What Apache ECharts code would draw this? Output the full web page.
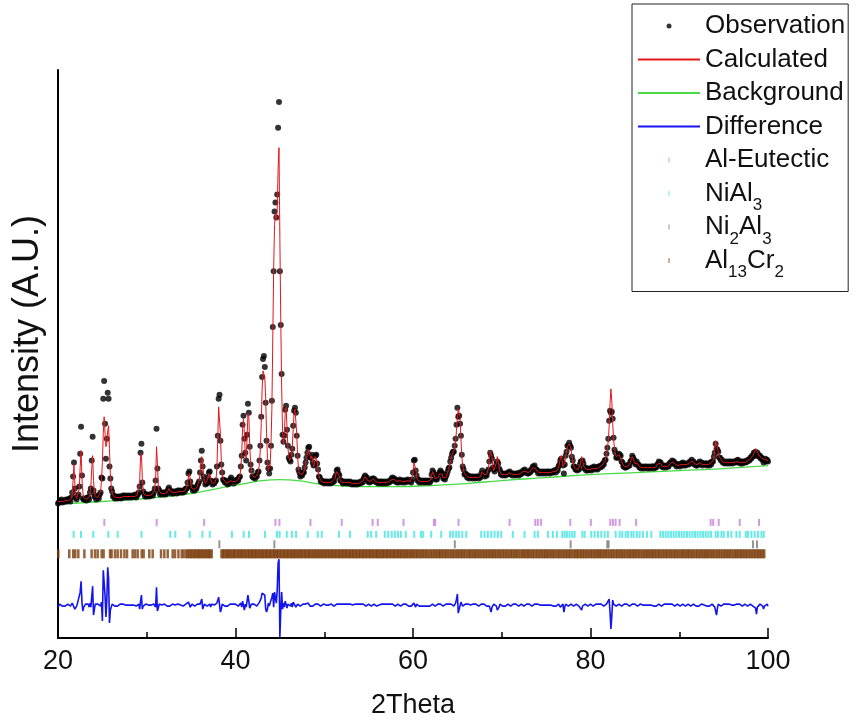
<!DOCTYPE html>
<html>
<head>
<meta charset="utf-8">
<title>XRD Rietveld refinement</title>
<script src="https://cdn.jsdelivr.net/npm/echarts@6/dist/echarts.min.js"></script>
<style>
html, body { margin: 0; padding: 0; background: #fff; }
#chart { width: 858px; height: 724px; }
</style>
</head>
<body>
<div id="chart"></div>
<script>
// Scan: 2θ from 20° to 100°, step 0.1°
const START = 20;
const STEP = 0.1;

// Observed intensity (a.u.), one row per degree
const observed = [
  135,136,138,137,139,136,137,138,137,139, // 20
  137,139,138,140,137,141,146,162,176,150, // 21
  141,139,142,144,152,185,212,163,140,139, // 22
  139,140,138,141,141,139,146,150,178,202, // 23
  148,142,143,139,141,142,140,144,146,161, // 24
  160,240,258,215,180,200,246,240,172,160, // 25
  150,147,142,143,140,142,141,140,142,141, // 26
  142,140,141,143,141,143,142,141,143,142, // 27
  141,143,142,141,143,142,142,144,141,143, // 28
  144,146,152,186,195,156,147,145,142,144, // 29
  142,144,143,142,144,143,145,143,146,150, // 30
  158,210,170,150,148,144,146,145,144,146, // 31
  146,144,146,145,149,151,148,147,145,147, // 32
  145,147,146,147,145,148,146,148,147,146, // 33
  148,146,148,147,150,150,156,165,167,157, // 34
  152,151,148,150,148,151,150,153,155,157, // 35
  166,178,188,172,162,159,154,156,155,161, // 36
  166,167,158,157,154,156,155,157,158,172, // 37
  203,240,244,198,174,166,159,158,156,158, // 38
  156,154,156,155,159,161,158,158,155,158, // 39
  158,157,159,158,161,162,172,183,214,223, // 40
  200,186,178,204,235,226,192,174,168,162, // 41
  161,162,160,163,162,166,167,178,193,222, // 42
  262,280,283,272,236,198,176,170,165,170, // 43
  193,238,312,368,428,437,422,445,512,538, // 44
  368,314,265,204,197,203,229,233,209,193, // 45
  181,179,177,184,190,213,228,231,226,203, // 46
  183,169,166,162,164,163,166,166,171,176, // 47
  181,186,191,192,182,181,184,176,173,174, // 48
  183,184,175,169,162,161,157,158,156,157, // 49
  155,157,156,157,155,156,157,155,157,156, // 50
  158,157,161,163,168,169,165,163,158,158, // 51
  157,155,156,157,156,155,157,156,155,157, // 52
  156,154,155,156,154,156,155,154,156,155, // 53
  155,157,156,156,159,161,163,161,161,157, // 54
  158,156,158,157,160,159,160,157,158,156, // 55
  157,155,156,157,155,157,156,155,157,156, // 56
  155,157,156,156,158,157,160,161,159,160, // 57
  157,158,156,158,156,159,157,158,156,158, // 58
  158,156,158,157,159,157,158,158,156,159, // 59
  166,178,179,168,163,158,159,156,158,157, // 60
  156,158,157,156,158,157,156,158,157,156, // 61
  158,164,168,166,164,159,160,159,162,164, // 62
  166,168,166,165,160,161,159,162,164,167, // 63
  170,171,177,181,185,187,187,193,200,214, // 64
  231,222,223,215,203,184,172,169,164,165, // 65
  164,161,163,160,162,161,162,160,162,161, // 66
  160,162,161,162,160,162,161,165,168,165, // 67
  165,162,164,163,167,169,177,186,183,180, // 68
  171,169,167,171,175,177,175,170,168,164, // 69
  165,163,165,164,163,165,164,166,165,167, // 70
  164,165,163,165,164,163,165,164,165,163, // 71
  166,164,166,165,168,167,169,166,167,165, // 72
  165,167,166,169,168,172,171,173,169,169, // 73
  168,165,167,166,165,167,166,165,167,166, // 74
  165,167,166,167,165,166,167,166,166,168, // 75
  168,166,169,168,172,174,178,180,177,173, // 76
  165,174,183,187,193,193,196,193,191,182, // 77
  178,172,172,169,170,168,170,169,174,177, // 78
  177,178,175,170,171,168,170,168,170,169, // 79
  170,168,171,170,172,169,171,170,169,172, // 80
  172,171,173,172,175,174,178,179,185,191, // 81
  200,218,228,226,227,220,201,189,186,181, // 82
  182,181,185,184,183,177,176,172,173,171, // 83
  171,173,172,174,173,177,178,183,181,179, // 84
  176,174,177,174,174,171,172,170,172,171, // 85
  170,172,171,172,170,171,172,170,171,172, // 86
  172,170,172,171,171,174,174,177,176,176, // 87
  172,173,171,173,172,171,173,172,172,175, // 88
  176,175,178,176,177,174,175,172,174,173, // 89
  174,172,175,174,176,173,175,173,175,174, // 90
  175,174,177,176,179,176,177,174,175,173, // 91
  173,175,174,177,175,176,173,175,174,175, // 92
  175,173,175,174,173,176,174,177,177,182, // 93
  186,195,190,189,187,181,181,178,179,176, // 94
  177,175,176,177,175,176,177,175,177,176, // 95
  175,177,176,177,176,178,179,176,177,175, // 96
  177,175,177,176,177,176,178,177,179,178, // 97
  181,180,183,182,186,185,187,183,186,184, // 98
  182,183,180,181,179,176,178,180,177,179, // 99
  177                                      // 100
];

// Calculated profile (a.u.), same steps
const calculated = [
  137,137,137,137,137,137,137,137,138,138, // 20
  138,138,138,138,138,140,144,158,174,154, // 21
  143,140,140,142,150,172,188,160,146,141, // 22
  140,139,139,139,140,141,144,152,170,183, // 23
  158,146,142,140,140,141,141,143,147,158, // 24
  176,205,222,205,192,196,208,213,190,165, // 25
  152,146,143,142,141,141,141,141,141,141, // 26
  141,141,141,142,142,142,142,142,142,142, // 27
  142,142,142,142,142,142,142,142,142,143, // 28
  143,145,156,182,185,160,148,144,143,143, // 29
  143,143,143,143,143,143,144,144,145,149, // 30
  160,192,176,153,147,145,145,145,145,145, // 31
  145,145,145,146,148,150,149,147,146,146, // 32
  146,146,146,146,146,147,147,147,147,147, // 33
  147,147,147,148,149,151,155,162,165,159, // 34
  153,150,149,149,149,150,151,152,154,158, // 35
  165,175,182,176,164,158,155,155,156,160, // 36
  165,166,160,156,155,155,155,156,159,170, // 37
  200,232,234,205,178,165,160,158,157,157, // 38
  155,155,155,156,158,160,159,157,156,157, // 39
  157,158,158,159,160,163,170,185,210,220, // 40
  205,185,180,200,225,222,195,175,167,163, // 41
  162,161,161,162,163,165,168,175,190,215, // 42
  250,268,270,262,240,205,180,168,166,172, // 43
  195,230,300,370,415,425,420,430,470,492, // 44
  400,320,252,208,195,205,225,232,212,192, // 45
  182,178,178,182,192,210,226,230,228,205, // 46
  182,170,165,163,163,164,165,167,170,175, // 47
  180,185,189,190,183,180,183,177,172,175, // 48
  182,183,176,168,163,160,158,157,157,156, // 49
  156,156,156,156,156,156,156,156,156,157, // 50
  157,158,160,164,167,168,166,162,159,157, // 51
  156,156,156,156,156,156,156,156,156,156, // 52
  155,155,155,155,155,155,155,155,155,156, // 53
  156,156,156,157,158,160,162,162,160,158, // 54
  157,157,157,158,159,160,159,158,157,157, // 55
  156,156,156,156,156,156,156,156,156,156, // 56
  156,156,156,157,157,158,159,160,160,159, // 57
  158,157,157,157,157,158,158,157,157,157, // 58
  157,157,157,158,158,158,158,157,157,158, // 59
  165,176,178,170,162,159,158,157,157,157, // 60
  157,157,157,157,157,157,157,157,157,157, // 61
  159,163,167,167,163,160,159,160,161,163, // 62
  165,167,167,164,161,160,160,161,163,166, // 63
  169,172,176,180,184,186,188,192,198,208, // 64
  220,230,232,222,200,182,173,168,165,164, // 65
  163,162,162,161,161,161,161,161,161,161, // 66
  161,161,161,161,161,161,162,164,167,166, // 67
  164,163,163,164,166,170,178,188,190,182, // 68
  172,168,168,170,176,182,180,172,167,165, // 69
  164,164,164,164,164,164,164,165,166,166, // 70
  165,164,164,164,164,164,164,164,164,164, // 71
  165,165,165,166,167,168,168,167,166,166, // 72
  166,166,167,168,169,171,172,172,170,168, // 73
  167,166,166,166,166,166,166,166,166,166, // 74
  166,166,166,166,166,166,166,166,167,167, // 75
  167,167,168,169,171,175,180,183,178,172, // 76
  172,176,182,188,192,194,195,194,190,183, // 77
  177,173,171,170,169,169,169,170,173,178, // 78
  182,179,174,171,170,169,169,169,169,169, // 79
  169,169,170,171,171,170,170,170,170,171, // 80
  171,172,172,173,174,175,177,180,184,190, // 81
  198,212,235,250,238,215,200,190,185,182, // 82
  181,182,184,185,182,178,175,173,172,172, // 83
  172,172,172,173,174,176,179,182,182,178, // 84
  175,175,176,175,173,172,171,171,171,171, // 85
  171,171,171,171,171,171,171,171,171,171, // 86
  171,171,171,171,172,173,175,176,177,175, // 87
  173,172,172,172,172,172,172,172,173,174, // 88
  175,176,177,177,176,175,174,173,173,173, // 89
  173,173,174,175,175,174,174,174,174,174, // 90
  174,175,176,177,178,177,176,175,174,174, // 91
  174,174,175,176,176,175,174,174,174,174, // 92
  174,174,174,174,174,175,175,176,178,181, // 93
  188,198,200,192,186,182,180,179,178,177, // 94
  176,176,176,176,176,176,176,176,176,176, // 95
  176,176,176,176,177,177,178,177,176,176, // 96
  176,176,176,176,176,177,177,178,178,179, // 97
  180,181,182,183,185,187,190,192,188,185, // 98
  183,182,181,180,180,180,179,179,178,178, // 99
  178                                      // 100
];

// Refined background: [2θ, intensity]
const background = [
  [20,134],[25,137],[30,140],[35,145],[38,150],[41,155],[43,158],[45,159],
  [47,158],[50,154],[54,152],[58,152],[62,153],[66,155],[70,158],[75,161],
  [80,164],[85,166],[90,168],[95,170],[100,173]
];

// Baseline of the difference curve (a.u.)
const DIFF_BASE = 33;

// Reflection positions (2θ) for each phase
const alEutectic = [
  25.22,31.12,36.47,44.5,44.95,48.45,51.97,55.45,56.03,58.93,62.35,62.5,65.13,
  70.88,73.78,74.07,74.43,77.72,80.04,82.23,82.53,82.83,83.28,85.14,93.54,93.82,
  94.44,96.81,98.99
];
const niAl3 = [
  21.76,22.59,23.98,25.67,26.72,29.4,32.65,33.22,34.84,36.27,37.1,39.6,40.92,41.52,
  43.32,44.67,44.97,45.78,46.35,46.83,48.14,49.27,49.72,51.67,52.9,54.9,55.28,55.85,
  56.82,57.2,57.6,57.95,58.3,58.63,59.19,60.14,60.9,61.15,62.05,63.18,64.19,64.49,
  64.87,65.16,65.55,66.0,67.69,68.06,68.43,68.82,69.19,69.56,69.94,71.25,72.57,73.7,
  74.07,75.2,75.76,76.21,76.82,77.08,77.34,77.64,77.95,78.21,79.08,79.34,80.09,80.46,
  80.83,81.22,81.59,81.96,82.83,83.28,83.58,83.96,84.22,84.6,84.86,85.23,85.54,85.91,
  86.36,86.85,87.87,88.16,88.47,88.77,89.06,89.37,89.67,89.97,90.27,90.57,90.87,91.17,
  91.48,91.77,92.07,92.38,92.67,92.98,93.28,93.57,94.1,94.36,94.75,95.01,95.49,95.87,
  96.44,96.81,97.49,97.74,98.13,98.5,98.87,99.26,99.52
];
const ni2Al3 = [38.18,44.38,64.71,77.76,81.89,82.04,98.31,98.76];
const al13Cr2 = [
  20.03,21.27,21.72,21.95,22.29,22.97,23.79,24.17,24.47,24.92,25.14,25.86,26.04,26.42,
  26.72,27.1,27.48,27.78,28.41,28.68,28.98,29.43,29.65,30.29,30.67,31.61,31.98,32.36,
  32.92,33.19,33.57,33.94,34.16,
  34.45,34.6,34.78,34.95,35.1,35.28,35.42,35.6,35.75,35.9,36.05,36.2,36.38,36.52,36.7,
  36.85,37.0,37.15,37.32,
  38.42,38.58,38.71,38.9,39.05,39.2,39.33,39.5,39.66,39.81,39.95,
  40.12,40.3,40.44,40.6,40.75,40.9,41.08,41.22,41.4,41.55,41.7,41.86,
  42.0,42.18,42.3,42.48,42.62,42.8,42.95,43.1,43.25,43.42,43.55,43.72,43.88,
  44.02,44.2,44.35,44.5,44.66,44.8,44.97,45.12,45.3,45.45,45.6,45.78,45.92,
  46.08,46.25,46.4,46.55,46.7,46.88,47.02,47.2,47.35,47.5,47.68,47.82,47.98,
  48.15,48.3,48.45,48.62,48.78,48.93,49.1,49.25,49.42,49.58,49.72,49.9,
  50.05,50.2,50.38,50.52,50.7,50.85,51.0,51.18,51.32,51.5,51.65,51.8,51.98,
  52.12,52.3,52.45,52.6,52.78,52.92,53.1,53.25,53.4,53.58,53.72,53.9,
  54.05,54.22,54.38,54.52,54.7,54.85,55.02,55.18,55.32,55.5,55.65,55.82,55.96,
  56.12,56.28,56.45,56.6,56.75,56.92,57.08,57.22,57.4,57.55,57.72,57.88,
  58.02,58.2,58.35,58.5,58.68,58.82,59.0,59.15,59.3,59.48,59.62,59.8,59.95,
  60.1,60.28,60.45,60.6,60.8,60.95,61.12,61.3,61.48,61.65,61.85,
  62.02,62.2,62.38,62.55,62.72,62.9,63.05,63.22,63.4,63.58,63.75,63.92,
  64.12,64.3,64.48,64.65,64.85,65.02,65.2,65.38,65.55,65.72,65.9,
  66.1,66.28,66.45,66.6,66.8,66.95,67.12,67.3,67.48,67.65,67.85,
  68.02,68.2,68.38,68.55,68.72,68.9,69.05,69.22,69.4,69.58,69.75,69.92,
  70.12,70.3,70.48,70.65,70.85,71.02,71.2,71.38,71.55,71.72,71.9,
  72.1,72.28,72.45,72.6,72.8,72.95,73.12,73.3,73.48,73.65,73.85,
  74.02,74.2,74.38,74.55,74.72,74.9,75.05,75.22,75.4,75.58,75.75,75.92,
  76.12,76.3,76.48,76.65,76.85,77.02,77.2,77.38,77.55,77.72,77.9,
  78.1,78.28,78.45,78.6,78.8,78.95,79.12,79.3,79.48,79.65,79.85,
  80.02,80.2,80.38,80.55,80.72,80.9,81.05,81.22,81.4,81.58,81.75,81.92,
  82.12,82.3,82.48,82.65,82.85,83.02,83.2,83.38,83.55,83.72,83.9,
  84.1,84.28,84.45,84.6,84.8,84.95,85.12,85.3,85.48,85.65,85.85,
  86.02,86.2,86.38,86.55,86.72,86.9,87.05,87.22,87.4,87.58,87.75,87.92,
  88.12,88.3,88.48,88.65,88.85,89.02,89.2,89.38,89.55,89.72,89.9,
  90.1,90.28,90.45,90.6,90.8,90.95,91.12,91.3,91.48,91.65,91.85,
  92.02,92.2,92.38,92.55,92.72,92.9,93.05,93.22,93.4,93.58,93.75,93.92,
  94.12,94.3,94.48,94.65,94.85,95.02,95.2,95.38,95.55,95.72,95.9,
  96.1,96.28,96.45,96.6,96.8,96.95,97.12,97.3,97.48,97.65,97.85,
  98.02,98.2,98.38,98.55,98.72,98.9,99.05,99.22,99.4,99.58
];

// Vertical level of each reflection-marker row (a.u.)
const ROW_LEVEL = { alEutectic: 116, niAl3: 104, ni2Al3: 94, al13Cr2: 84.5 };

// Series colours
const COLORS = {
  obs: '#000000', calc: '#e3161c', bg: '#47dc47', diff: '#1414ee',
  alEutectic: '#c77fdb', niAl3: '#3fe3e3', ni2Al3: '#7a7a7a', al13Cr2: '#7b3d0b'
};

const FONT = '"Liberation Sans", Arial, sans-serif';
const angle = i => Math.round((START + i * STEP) * 10) / 10;

const obsData = observed.map((v, i) => [angle(i), v]);
const calcData = calculated.map((v, i) => [angle(i), v]);
const diffData = observed.map((v, i) => [angle(i), v - calculated[i] + DIFF_BASE]);
const markerRow = (list, level) => list.map(x => [x, level]);

// Legend entries: curves keep their own line sample (centre marker hidden),
// reflection rows get a short vertical tick
const tickIcon = 'path://M0,0H1V5H0Z';
const HIDDEN = 'rgba(0,0,0,0)';
const curveItem = name => ({
  name,
  itemStyle: { color: HIDDEN, borderColor: HIDDEN, borderWidth: 0 }
});
const markItem = (name, icon, color) => ({
  name, icon,
  itemStyle: { color, borderColor: color, borderWidth: 0 }
});

const chart = echarts.init(document.getElementById('chart'), null, { renderer: 'canvas' });
chart.setOption({
  animation: false,
  backgroundColor: '#ffffff',
  grid: { left: 58, right: 90, top: 70, bottom: 84 },
  legend: {
    orient: 'vertical',
    left: 632,
    top: 4,
    padding: [0, 3, 9, 5],
    itemWidth: 62,
    itemHeight: 5,
    itemGap: -10.5,
    selectedMode: false,
    backgroundColor: '#ffffff',
    borderColor: '#222',
    borderWidth: 1,
    textStyle: {
      fontFamily: FONT, fontSize: 26, color: '#111', lineHeight: 44,
      rich: { sub: { fontFamily: FONT, fontSize: 17, color: '#111', padding: [24, 0, 0, 0] } }
    },
    formatter: name => name.replace(/(\d+)/g, '{sub|$1}'),
    data: [
      markItem('Observation', 'circle', COLORS.obs),
      curveItem('Calculated'),
      curveItem('Background'),
      curveItem('Difference'),
      markItem('Al-Eutectic', tickIcon, COLORS.alEutectic),
      markItem('NiAl3', tickIcon, COLORS.niAl3),
      markItem('Ni2Al3', tickIcon, COLORS.ni2Al3),
      markItem('Al13Cr2', tickIcon, COLORS.al13Cr2)
    ]
  },
  xAxis: {
    type: 'value',
    min: 20, max: 100, interval: 20,
    axisLine: { lineStyle: { color: '#000', width: 2 } },
    axisTick: { inside: true, length: 10, lineStyle: { color: '#000', width: 1.5 } },
    minorTick: { show: true, splitNumber: 2, length: 6, lineStyle: { color: '#000', width: 1.5 } },
    splitLine: { show: false },
    axisLabel: { fontFamily: FONT, fontSize: 27, color: '#111', margin: 10 },
    name: '2Theta',
    nameLocation: 'middle',
    nameGap: 54,
    nameTextStyle: { fontFamily: FONT, fontSize: 27, color: '#111' }
  },
  yAxis: {
    type: 'value',
    min: 0, max: 570,
    axisLine: { show: true, lineStyle: { color: '#000', width: 2 } },
    axisTick: { show: false },
    axisLabel: { show: false },
    splitLine: { show: false },
    name: 'Intensity (A.U.)',
    nameLocation: 'middle',
    nameGap: 12,
    nameTextStyle: { fontFamily: FONT, fontSize: 36, color: '#111', padding: [0, 0, 0, 40] }
  },
  series: [
    {
      name: 'Background', type: 'line', data: background, smooth: true,
      symbol: 'none', color: COLORS.bg, lineStyle: { color: COLORS.bg, width: 1.3 }, z: 1
    },
    {
      name: 'Observation', type: 'scatter', data: obsData, symbolSize: 6,
      color: COLORS.obs, itemStyle: { color: COLORS.obs }, z: 2
    },
    {
      name: 'Calculated', type: 'line', data: calcData,
      symbol: 'none', color: COLORS.calc, lineStyle: { color: COLORS.calc, width: 1 }, z: 3
    },
    {
      name: 'Difference', type: 'line', data: diffData,
      symbol: 'none', color: COLORS.diff, lineStyle: { color: COLORS.diff, width: 1.6 }, z: 3
    },
    {
      name: 'Al-Eutectic', type: 'scatter', data: markerRow(alEutectic, ROW_LEVEL.alEutectic),
      symbol: 'rect', symbolSize: [2, 7], color: COLORS.alEutectic,
      itemStyle: { color: COLORS.alEutectic }, z: 4
    },
    {
      name: 'NiAl3', type: 'scatter', data: markerRow(niAl3, ROW_LEVEL.niAl3),
      symbol: 'rect', symbolSize: [2, 7], color: COLORS.niAl3,
      itemStyle: { color: COLORS.niAl3 }, z: 4
    },
    {
      name: 'Ni2Al3', type: 'scatter', data: markerRow(ni2Al3, ROW_LEVEL.ni2Al3),
      symbol: 'rect', symbolSize: [2, 8], color: COLORS.ni2Al3,
      itemStyle: { color: COLORS.ni2Al3 }, z: 4
    },
    {
      name: 'Al13Cr2', type: 'scatter', data: markerRow(al13Cr2, ROW_LEVEL.al13Cr2),
      symbol: 'rect', symbolSize: [2.5, 9], color: COLORS.al13Cr2,
      itemStyle: { color: COLORS.al13Cr2 }, z: 4
    }
  ]
});
</script>
</body>
</html>
